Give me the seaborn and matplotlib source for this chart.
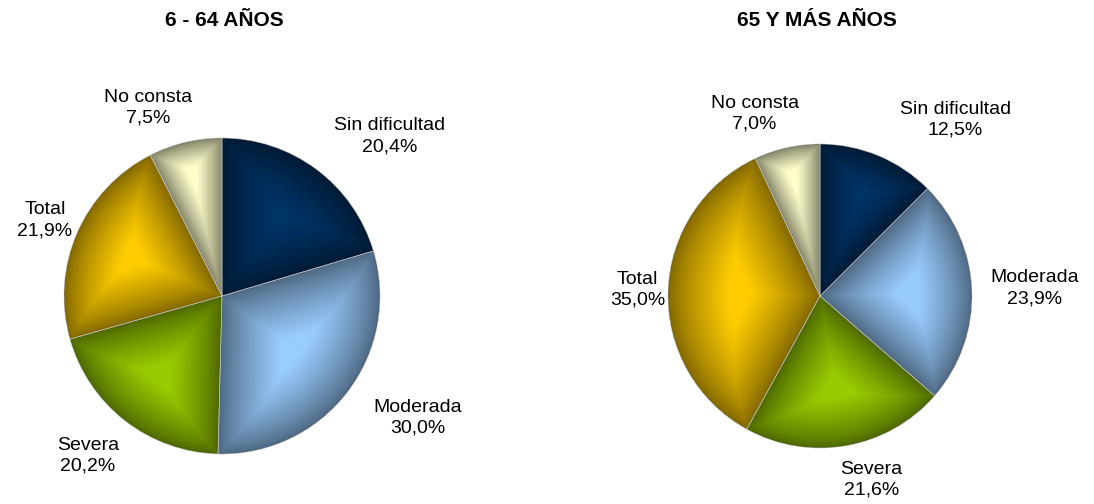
import numpy as np
import matplotlib
matplotlib.use("Agg")
import matplotlib.pyplot as plt
import seaborn as sns
from matplotlib.colors import to_rgb
from matplotlib.patches import Circle, Wedge

# data
categories = ["Sin dificultad", "Moderada", "Severa", "Total", "No consta"]
pct_6_64 = [20.4, 30.0, 20.2, 21.9, 7.5]
pct_65_mas = [12.5, 23.9, 21.6, 35.0, 7.0]
titles = ["6 - 64 AÑOS", "65 Y MÁS AÑOS"]
colors = ["#003366", "#99ccff", "#99cc00", "#ffcc00", "#ffffcc"]

# label anchors (in pie radius units), as the source chart placed them
label_pos_6_64 = [(1.06, 1.01), (1.24, -0.77), (-0.85, -1.01), (-1.12, 0.48), (-0.47, 1.19)]
label_pos_65_mas = [(0.89, 1.16), (1.41, 0.05), (0.34, -1.21), (-1.20, 0.04), (-0.43, 1.20)]

sns.set_theme(style="white")
plt.rcParams['font.family'] = ['Liberation Sans', 'DejaVu Sans']
plt.rcParams['text.color'] = 'black'

W, H = 1094, 504
fig = plt.figure(figsize=(W / 100, H / 100), dpi=100)


def shade_wedges(ax, wedges, cols, n=700):
    # Excel-like shading: light in the middle of each slice, darker towards its edges
    xs = np.linspace(-1, 1, n)
    X, Y = np.meshgrid(xs, xs[::-1])
    R = np.hypot(X, Y)
    A = np.degrees(np.arctan2(Y, X)) % 360
    img = np.zeros((n, n, 4))
    for w, c in zip(wedges, cols):
        span = w.theta2 - w.theta1
        rel = (A - w.theta1) % 360
        inside = (rel <= span) & (R <= 1)
        da = np.minimum(rel, span - rel)
        d_edge = R * np.sin(np.radians(np.clip(da, 0, 90)))
        d = np.minimum(d_edge, 1 - R)
        dmax = d[inside].max()
        t = np.clip(d / (0.85 * dmax), 0, 1) ** 0.8
        light = np.array(to_rgb(c))
        dark = light * 0.5
        rgb = dark + (light - dark) * t[..., None]
        img[inside, :3] = rgb[inside]
        img[inside, 3] = 1
    im = ax.imshow(img, extent=(-1, 1, -1, 1), zorder=2, interpolation="antialiased")
    clip = Circle((0, 0), 1, transform=ax.transData)
    im.set_clip_path(clip)
    for w in wedges:
        ax.add_patch(Wedge((0, 0), 1, w.theta1, w.theta2, facecolor="none",
                           edgecolor="#c8c8c8", linewidth=0.4, zorder=3))


def draw_pie(values, title, label_pos, cx, cy, radius):
    size = 3.2 * radius
    ax = fig.add_axes([(cx - size / 2) / W, (H - cy - size / 2) / H, size / W, size / H])
    wedges, _ = ax.pie(values, colors=[np.array(to_rgb(c)) * 0.5 for c in colors],
                       startangle=90, counterclock=False, radius=1,
                       wedgeprops=dict(linewidth=0))
    shade_wedges(ax, wedges, colors)
    for name, v, (lx, ly) in zip(categories, values, label_pos):
        txt = f"{name}\n{v:.1f}".replace(".", ",") + "%"
        ax.text(lx, ly, txt, ha="center", va="center", fontsize=14,
                linespacing=1.3, color="black")
    ax.set_xlim(-1.6, 1.6)
    ax.set_ylim(-1.6, 1.6)
    ax.set_aspect("equal")
    ax.axis("off")
    return ax


draw_pie(pct_6_64, titles[0], label_pos_6_64, 222, 296, 158)
draw_pie(pct_65_mas, titles[1], label_pos_65_mas, 820, 296, 152)

fig.text(224 / W, 1 - 20 / H, titles[0], ha="center", va="center",
         fontsize=15, fontweight="bold", color="black")
fig.text(817 / W, 1 - 20 / H, titles[1], ha="center", va="center",
         fontsize=15, fontweight="bold", color="black")

fig.savefig("out.png", dpi=100, facecolor="white")
